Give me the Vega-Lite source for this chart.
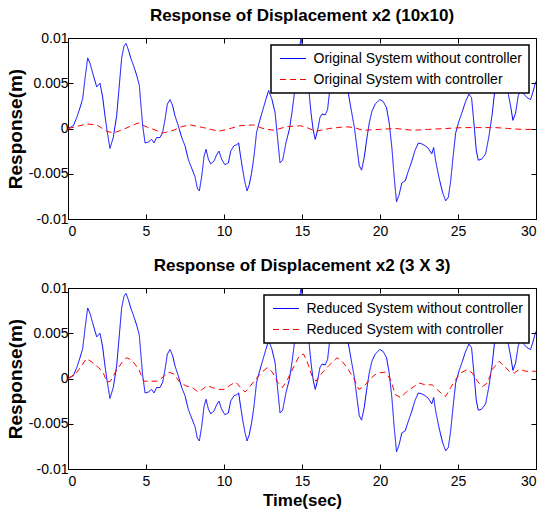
{
  "$schema": "https://vega.github.io/schema/vega-lite/v6.json",
  "background": "white",
  "padding": {"left": 5, "top": 6, "right": 5, "bottom": 5},
  "config": {
    "font": "Liberation Sans",
    "view": {"stroke": "black", "strokeWidth": 1},
    "axis": {
      "grid": false,
      "domainColor": "black",
      "tickColor": "black",
      "labelColor": "black",
      "labelFont": "Liberation Sans",
      "labelFontSize": 14,
      "tickSize": -5,
      "labelPadding": 5,
      "titleFont": "Liberation Sans",
      "titleFontSize": 19,
      "titleFontWeight": "bold",
      "titleColor": "black",
      "titlePadding": 3
    },
    "axisX": {"labelPadding": 10},
    "title": {"font": "Liberation Sans", "fontSize": 17, "fontWeight": "bold", "color": "black", "offset": 6},
    "legend": {
      "orient": "top-right",
      "offset": 7,
      "strokeColor": "black",
      "strokeWidth": 1.5,
      "fillColor": "white",
      "padding": 6,
      "labelFont": "Liberation Sans",
      "labelFontSize": 14,
      "labelColor": "black",
      "labelLimit": 400,
      "symbolType": "M-2,0H2",
      "symbolSize": 169,
      "symbolOffset": 8.5,
      "symbolStrokeWidth": 1.2,
      "symbolFillColor": "transparent",
      "rowPadding": 6,
      "labelOffset": 13
    },
    "concat": {"spacing": 17}
  },
  "datasets": {
    "top": [
      {"s": "a", "t": 0, "v": 0}, {"s": "a", "t": 0.34, "v": 0.0003}, {"s": "a", "t": 0.56, "v": 0.0012}, {"s": "a", "t": 0.77, "v": 0.0023}, {"s": "a", "t": 0.94, "v": 0.0033},
      {"s": "a", "t": 1.09, "v": 0.0055}, {"s": "a", "t": 1.26, "v": 0.0078}, {"s": "a", "t": 1.41, "v": 0.0072}, {"s": "a", "t": 1.62, "v": 0.0059}, {"s": "a", "t": 1.84, "v": 0.0046},
      {"s": "a", "t": 2.05, "v": 0.005}, {"s": "a", "t": 2.22, "v": 0.0035}, {"s": "a", "t": 2.37, "v": 0.0014}, {"s": "a", "t": 2.52, "v": -0.0004}, {"s": "a", "t": 2.69, "v": -0.0022},
      {"s": "a", "t": 2.9, "v": -0.001}, {"s": "a", "t": 3.12, "v": 0.0014}, {"s": "a", "t": 3.29, "v": 0.0048}, {"s": "a", "t": 3.44, "v": 0.0078}, {"s": "a", "t": 3.59, "v": 0.0091},
      {"s": "a", "t": 3.72, "v": 0.0094}, {"s": "a", "t": 3.87, "v": 0.0087}, {"s": "a", "t": 4.02, "v": 0.0078}, {"s": "a", "t": 4.19, "v": 0.007}, {"s": "a", "t": 4.4, "v": 0.0059},
      {"s": "a", "t": 4.57, "v": 0.0048}, {"s": "a", "t": 4.66, "v": 0.0029}, {"s": "a", "t": 4.79, "v": 0.0003}, {"s": "a", "t": 4.94, "v": -0.0016}, {"s": "a", "t": 5.15, "v": -0.0015},
      {"s": "a", "t": 5.36, "v": -0.0012}, {"s": "a", "t": 5.51, "v": -0.0016}, {"s": "a", "t": 5.68, "v": -0.001}, {"s": "a", "t": 5.9, "v": -0.001}, {"s": "a", "t": 6.07, "v": -0.0004},
      {"s": "a", "t": 6.22, "v": 0.001}, {"s": "a", "t": 6.37, "v": 0.0027}, {"s": "a", "t": 6.54, "v": 0.0032}, {"s": "a", "t": 6.71, "v": 0.0025}, {"s": "a", "t": 6.86, "v": 0.0014},
      {"s": "a", "t": 7.07, "v": 0.0003}, {"s": "a", "t": 7.29, "v": -0.001}, {"s": "a", "t": 7.5, "v": -0.0019}, {"s": "a", "t": 7.71, "v": -0.0034}, {"s": "a", "t": 7.93, "v": -0.0044},
      {"s": "a", "t": 8.14, "v": -0.0053}, {"s": "a", "t": 8.29, "v": -0.0066}, {"s": "a", "t": 8.42, "v": -0.0069}, {"s": "a", "t": 8.57, "v": -0.0053}, {"s": "a", "t": 8.72, "v": -0.0031},
      {"s": "a", "t": 8.85, "v": -0.0023}, {"s": "a", "t": 9.0, "v": -0.0034}, {"s": "a", "t": 9.15, "v": -0.0039}, {"s": "a", "t": 9.36, "v": -0.0036}, {"s": "a", "t": 9.53, "v": -0.0029},
      {"s": "a", "t": 9.68, "v": -0.0025}, {"s": "a", "t": 9.85, "v": -0.0034}, {"s": "a", "t": 10.06, "v": -0.004}, {"s": "a", "t": 10.28, "v": -0.0038}, {"s": "a", "t": 10.43, "v": -0.0025},
      {"s": "a", "t": 10.64, "v": -0.0019}, {"s": "a", "t": 10.81, "v": -0.0018}, {"s": "a", "t": 10.94, "v": -0.0016}, {"s": "a", "t": 11.03, "v": -0.0027}, {"s": "a", "t": 11.2, "v": -0.0046},
      {"s": "a", "t": 11.35, "v": -0.006}, {"s": "a", "t": 11.48, "v": -0.0069}, {"s": "a", "t": 11.62, "v": -0.0062}, {"s": "a", "t": 11.77, "v": -0.0049}, {"s": "a", "t": 11.92, "v": -0.0031},
      {"s": "a", "t": 12.09, "v": -0.0004}, {"s": "a", "t": 12.26, "v": 0.0007}, {"s": "a", "t": 12.48, "v": 0.002}, {"s": "a", "t": 12.7, "v": 0.0033}, {"s": "a", "t": 12.86, "v": 0.0042},
      {"s": "a", "t": 13.06, "v": 0.0033}, {"s": "a", "t": 13.27, "v": 0.0018}, {"s": "a", "t": 13.42, "v": -0.0008}, {"s": "a", "t": 13.59, "v": -0.0038}, {"s": "a", "t": 13.76, "v": -0.0035},
      {"s": "a", "t": 13.97, "v": -0.0016}, {"s": "a", "t": 14.19, "v": -0.0001}, {"s": "a", "t": 14.36, "v": 0.0018}, {"s": "a", "t": 14.55, "v": 0.0044}, {"s": "a", "t": 14.75, "v": 0.0082},
      {"s": "a", "t": 14.94, "v": 0.0099}, {"s": "a", "t": 15.1, "v": 0.0085}, {"s": "a", "t": 15.25, "v": 0.0065}, {"s": "a", "t": 15.43, "v": 0.0044}, {"s": "a", "t": 15.58, "v": 0.0017},
      {"s": "a", "t": 15.72, "v": -0.0002}, {"s": "a", "t": 15.85, "v": -0.0012}, {"s": "a", "t": 16.0, "v": -0.0002}, {"s": "a", "t": 16.15, "v": 0.0012}, {"s": "a", "t": 16.28, "v": 0.0016},
      {"s": "a", "t": 16.49, "v": 0.0015}, {"s": "a", "t": 16.64, "v": 0.0021}, {"s": "a", "t": 16.79, "v": 0.0044}, {"s": "a", "t": 17.0, "v": 0.0058}, {"s": "a", "t": 17.3, "v": 0.0065},
      {"s": "a", "t": 17.6, "v": 0.0058}, {"s": "a", "t": 17.92, "v": 0.0044}, {"s": "a", "t": 18.13, "v": 0.0023}, {"s": "a", "t": 18.35, "v": 0.0002}, {"s": "a", "t": 18.52, "v": -0.0021},
      {"s": "a", "t": 18.67, "v": -0.0041}, {"s": "a", "t": 18.82, "v": -0.0046}, {"s": "a", "t": 18.99, "v": -0.0032}, {"s": "a", "t": 19.14, "v": -0.0013}, {"s": "a", "t": 19.31, "v": 0.0006},
      {"s": "a", "t": 19.48, "v": 0.0019}, {"s": "a", "t": 19.69, "v": 0.0027}, {"s": "a", "t": 19.99, "v": 0.0032}, {"s": "a", "t": 20.2, "v": 0.003}, {"s": "a", "t": 20.42, "v": 0.0023},
      {"s": "a", "t": 20.59, "v": 0.0006}, {"s": "a", "t": 20.76, "v": -0.0021}, {"s": "a", "t": 20.91, "v": -0.0054}, {"s": "a", "t": 21.06, "v": -0.0081}, {"s": "a", "t": 21.23, "v": -0.0073},
      {"s": "a", "t": 21.4, "v": -0.006}, {"s": "a", "t": 21.61, "v": -0.0058}, {"s": "a", "t": 21.82, "v": -0.0047}, {"s": "a", "t": 22.04, "v": -0.0036}, {"s": "a", "t": 22.25, "v": -0.0024},
      {"s": "a", "t": 22.46, "v": -0.0016}, {"s": "a", "t": 22.68, "v": -0.0017}, {"s": "a", "t": 22.89, "v": -0.0019}, {"s": "a", "t": 23.1, "v": -0.0022}, {"s": "a", "t": 23.32, "v": -0.0028},
      {"s": "a", "t": 23.44, "v": -0.0021}, {"s": "a", "t": 23.57, "v": -0.0036}, {"s": "a", "t": 23.78, "v": -0.0054}, {"s": "a", "t": 24.0, "v": -0.007}, {"s": "a", "t": 24.21, "v": -0.008},
      {"s": "a", "t": 24.38, "v": -0.0076}, {"s": "a", "t": 24.53, "v": -0.0058}, {"s": "a", "t": 24.68, "v": -0.0032}, {"s": "a", "t": 24.85, "v": -0.0005}, {"s": "a", "t": 25.06, "v": 0.0008},
      {"s": "a", "t": 25.28, "v": 0.0019}, {"s": "a", "t": 25.49, "v": 0.003}, {"s": "a", "t": 25.7, "v": 0.0038}, {"s": "a", "t": 25.87, "v": 0.0034}, {"s": "a", "t": 26.02, "v": 0.0006},
      {"s": "a", "t": 26.17, "v": -0.0024}, {"s": "a", "t": 26.3, "v": -0.0035}, {"s": "a", "t": 26.51, "v": -0.0034}, {"s": "a", "t": 26.77, "v": -0.0028}, {"s": "a", "t": 26.98, "v": -0.0009},
      {"s": "a", "t": 27.2, "v": 0.0017}, {"s": "a", "t": 27.37, "v": 0.0044}, {"s": "a", "t": 27.55, "v": 0.006}, {"s": "a", "t": 27.75, "v": 0.0064}, {"s": "a", "t": 27.95, "v": 0.0058},
      {"s": "a", "t": 28.16, "v": 0.0044}, {"s": "a", "t": 28.37, "v": 0.0025}, {"s": "a", "t": 28.52, "v": 0.0009}, {"s": "a", "t": 28.69, "v": 0.0017}, {"s": "a", "t": 28.86, "v": 0.0036},
      {"s": "a", "t": 29.0, "v": 0.0042}, {"s": "a", "t": 29.22, "v": 0.0038}, {"s": "a", "t": 29.43, "v": 0.0034}, {"s": "a", "t": 29.65, "v": 0.0032}, {"s": "a", "t": 29.8, "v": 0.004},
      {"s": "a", "t": 29.97, "v": 0.0051}, {"s": "a", "t": 30, "v": 0.0052},
      {"s": "b", "t": 0, "v": 0}, {"s": "b", "t": 0.5, "v": 0.0002}, {"s": "b", "t": 1.2, "v": 0.0005}, {"s": "b", "t": 1.84, "v": 0.0004}, {"s": "b", "t": 2.48, "v": -0.0003},
      {"s": "b", "t": 2.9, "v": -0.0005}, {"s": "b", "t": 3.55, "v": -0.0001}, {"s": "b", "t": 4.19, "v": 0.0004}, {"s": "b", "t": 4.5, "v": 0.0006}, {"s": "b", "t": 5.15, "v": 0.0001},
      {"s": "b", "t": 5.8, "v": -0.0003}, {"s": "b", "t": 6.1, "v": -0.0005}, {"s": "b", "t": 6.75, "v": -0.0002}, {"s": "b", "t": 7.29, "v": 0.0002}, {"s": "b", "t": 7.82, "v": 0.0004},
      {"s": "b", "t": 8.68, "v": 0.0001}, {"s": "b", "t": 9.64, "v": -0.0003}, {"s": "b", "t": 10.2, "v": -0.0001}, {"s": "b", "t": 11.0, "v": 0.0003}, {"s": "b", "t": 11.9, "v": 0.0004},
      {"s": "b", "t": 12.5, "v": 0}, {"s": "b", "t": 13.2, "v": -0.0002}, {"s": "b", "t": 14.0, "v": 0.0002}, {"s": "b", "t": 14.9, "v": 0.0003}, {"s": "b", "t": 15.3, "v": 0.0001},
      {"s": "b", "t": 15.9, "v": -0.0003}, {"s": "b", "t": 16.75, "v": 0}, {"s": "b", "t": 17.8, "v": 0.0002}, {"s": "b", "t": 18.35, "v": 0.0001}, {"s": "b", "t": 18.9, "v": -0.0002},
      {"s": "b", "t": 19.95, "v": -0.0001}, {"s": "b", "t": 21.0, "v": 0}, {"s": "b", "t": 22.1, "v": -0.0002}, {"s": "b", "t": 23.1, "v": -0.0001}, {"s": "b", "t": 24.2, "v": 0},
      {"s": "b", "t": 25.3, "v": 0.0001}, {"s": "b", "t": 26.3, "v": 0.0001}, {"s": "b", "t": 27.4, "v": 0.0001}, {"s": "b", "t": 28.25, "v": 0}, {"s": "b", "t": 29.1, "v": -0.0001},
      {"s": "b", "t": 30, "v": -0.0001}
    ],
    "bot": [
      {"s": "a", "t": 0, "v": 0}, {"s": "a", "t": 0.34, "v": 0.0003}, {"s": "a", "t": 0.56, "v": 0.0012}, {"s": "a", "t": 0.77, "v": 0.0023}, {"s": "a", "t": 0.94, "v": 0.0033},
      {"s": "a", "t": 1.09, "v": 0.0055}, {"s": "a", "t": 1.26, "v": 0.0078}, {"s": "a", "t": 1.41, "v": 0.0072}, {"s": "a", "t": 1.62, "v": 0.0059}, {"s": "a", "t": 1.84, "v": 0.0046},
      {"s": "a", "t": 2.05, "v": 0.005}, {"s": "a", "t": 2.22, "v": 0.0035}, {"s": "a", "t": 2.37, "v": 0.0014}, {"s": "a", "t": 2.52, "v": -0.0004}, {"s": "a", "t": 2.69, "v": -0.0022},
      {"s": "a", "t": 2.9, "v": -0.001}, {"s": "a", "t": 3.12, "v": 0.0014}, {"s": "a", "t": 3.29, "v": 0.0048}, {"s": "a", "t": 3.44, "v": 0.0078}, {"s": "a", "t": 3.59, "v": 0.0091},
      {"s": "a", "t": 3.72, "v": 0.0094}, {"s": "a", "t": 3.87, "v": 0.0087}, {"s": "a", "t": 4.02, "v": 0.0078}, {"s": "a", "t": 4.19, "v": 0.007}, {"s": "a", "t": 4.4, "v": 0.0059},
      {"s": "a", "t": 4.57, "v": 0.0048}, {"s": "a", "t": 4.66, "v": 0.0029}, {"s": "a", "t": 4.79, "v": 0.0003}, {"s": "a", "t": 4.94, "v": -0.0016}, {"s": "a", "t": 5.15, "v": -0.0015},
      {"s": "a", "t": 5.36, "v": -0.0012}, {"s": "a", "t": 5.51, "v": -0.0016}, {"s": "a", "t": 5.68, "v": -0.001}, {"s": "a", "t": 5.9, "v": -0.001}, {"s": "a", "t": 6.07, "v": -0.0004},
      {"s": "a", "t": 6.22, "v": 0.001}, {"s": "a", "t": 6.37, "v": 0.0027}, {"s": "a", "t": 6.54, "v": 0.0032}, {"s": "a", "t": 6.71, "v": 0.0025}, {"s": "a", "t": 6.86, "v": 0.0014},
      {"s": "a", "t": 7.07, "v": 0.0003}, {"s": "a", "t": 7.29, "v": -0.001}, {"s": "a", "t": 7.5, "v": -0.0019}, {"s": "a", "t": 7.71, "v": -0.0034}, {"s": "a", "t": 7.93, "v": -0.0044},
      {"s": "a", "t": 8.14, "v": -0.0053}, {"s": "a", "t": 8.29, "v": -0.0066}, {"s": "a", "t": 8.42, "v": -0.0069}, {"s": "a", "t": 8.57, "v": -0.0053}, {"s": "a", "t": 8.72, "v": -0.0031},
      {"s": "a", "t": 8.85, "v": -0.0023}, {"s": "a", "t": 9.0, "v": -0.0034}, {"s": "a", "t": 9.15, "v": -0.0039}, {"s": "a", "t": 9.36, "v": -0.0036}, {"s": "a", "t": 9.53, "v": -0.0029},
      {"s": "a", "t": 9.68, "v": -0.0025}, {"s": "a", "t": 9.85, "v": -0.0034}, {"s": "a", "t": 10.06, "v": -0.004}, {"s": "a", "t": 10.28, "v": -0.0038}, {"s": "a", "t": 10.43, "v": -0.0025},
      {"s": "a", "t": 10.64, "v": -0.0019}, {"s": "a", "t": 10.81, "v": -0.0018}, {"s": "a", "t": 10.94, "v": -0.0016}, {"s": "a", "t": 11.03, "v": -0.0027}, {"s": "a", "t": 11.2, "v": -0.0046},
      {"s": "a", "t": 11.35, "v": -0.006}, {"s": "a", "t": 11.48, "v": -0.0069}, {"s": "a", "t": 11.62, "v": -0.0062}, {"s": "a", "t": 11.77, "v": -0.0049}, {"s": "a", "t": 11.92, "v": -0.0031},
      {"s": "a", "t": 12.09, "v": -0.0004}, {"s": "a", "t": 12.26, "v": 0.0007}, {"s": "a", "t": 12.48, "v": 0.002}, {"s": "a", "t": 12.7, "v": 0.0033}, {"s": "a", "t": 12.86, "v": 0.0042},
      {"s": "a", "t": 13.06, "v": 0.0033}, {"s": "a", "t": 13.27, "v": 0.0018}, {"s": "a", "t": 13.42, "v": -0.0008}, {"s": "a", "t": 13.59, "v": -0.0038}, {"s": "a", "t": 13.76, "v": -0.0035},
      {"s": "a", "t": 13.97, "v": -0.0016}, {"s": "a", "t": 14.19, "v": -0.0001}, {"s": "a", "t": 14.36, "v": 0.0018}, {"s": "a", "t": 14.55, "v": 0.0044}, {"s": "a", "t": 14.75, "v": 0.0082},
      {"s": "a", "t": 14.94, "v": 0.0099}, {"s": "a", "t": 15.1, "v": 0.0085}, {"s": "a", "t": 15.25, "v": 0.0065}, {"s": "a", "t": 15.43, "v": 0.0044}, {"s": "a", "t": 15.58, "v": 0.0017},
      {"s": "a", "t": 15.72, "v": -0.0002}, {"s": "a", "t": 15.85, "v": -0.0012}, {"s": "a", "t": 16.0, "v": -0.0002}, {"s": "a", "t": 16.15, "v": 0.0012}, {"s": "a", "t": 16.28, "v": 0.0016},
      {"s": "a", "t": 16.49, "v": 0.0015}, {"s": "a", "t": 16.64, "v": 0.0021}, {"s": "a", "t": 16.79, "v": 0.0044}, {"s": "a", "t": 17.0, "v": 0.0058}, {"s": "a", "t": 17.3, "v": 0.0065},
      {"s": "a", "t": 17.6, "v": 0.0058}, {"s": "a", "t": 17.92, "v": 0.0044}, {"s": "a", "t": 18.13, "v": 0.0023}, {"s": "a", "t": 18.35, "v": 0.0002}, {"s": "a", "t": 18.52, "v": -0.0021},
      {"s": "a", "t": 18.67, "v": -0.0041}, {"s": "a", "t": 18.82, "v": -0.0046}, {"s": "a", "t": 18.99, "v": -0.0032}, {"s": "a", "t": 19.14, "v": -0.0013}, {"s": "a", "t": 19.31, "v": 0.0006},
      {"s": "a", "t": 19.48, "v": 0.0019}, {"s": "a", "t": 19.69, "v": 0.0027}, {"s": "a", "t": 19.99, "v": 0.0032}, {"s": "a", "t": 20.2, "v": 0.003}, {"s": "a", "t": 20.42, "v": 0.0023},
      {"s": "a", "t": 20.59, "v": 0.0006}, {"s": "a", "t": 20.76, "v": -0.0021}, {"s": "a", "t": 20.91, "v": -0.0054}, {"s": "a", "t": 21.06, "v": -0.0081}, {"s": "a", "t": 21.23, "v": -0.0073},
      {"s": "a", "t": 21.4, "v": -0.006}, {"s": "a", "t": 21.61, "v": -0.0058}, {"s": "a", "t": 21.82, "v": -0.0047}, {"s": "a", "t": 22.04, "v": -0.0036}, {"s": "a", "t": 22.25, "v": -0.0024},
      {"s": "a", "t": 22.46, "v": -0.0016}, {"s": "a", "t": 22.68, "v": -0.0017}, {"s": "a", "t": 22.89, "v": -0.0019}, {"s": "a", "t": 23.1, "v": -0.0022}, {"s": "a", "t": 23.32, "v": -0.0028},
      {"s": "a", "t": 23.44, "v": -0.0021}, {"s": "a", "t": 23.57, "v": -0.0036}, {"s": "a", "t": 23.78, "v": -0.0054}, {"s": "a", "t": 24.0, "v": -0.007}, {"s": "a", "t": 24.21, "v": -0.008},
      {"s": "a", "t": 24.38, "v": -0.0076}, {"s": "a", "t": 24.53, "v": -0.0058}, {"s": "a", "t": 24.68, "v": -0.0032}, {"s": "a", "t": 24.85, "v": -0.0005}, {"s": "a", "t": 25.06, "v": 0.0008},
      {"s": "a", "t": 25.28, "v": 0.0019}, {"s": "a", "t": 25.49, "v": 0.003}, {"s": "a", "t": 25.7, "v": 0.0038}, {"s": "a", "t": 25.87, "v": 0.0034}, {"s": "a", "t": 26.02, "v": 0.0006},
      {"s": "a", "t": 26.17, "v": -0.0024}, {"s": "a", "t": 26.3, "v": -0.0035}, {"s": "a", "t": 26.51, "v": -0.0034}, {"s": "a", "t": 26.77, "v": -0.0028}, {"s": "a", "t": 26.98, "v": -0.0009},
      {"s": "a", "t": 27.2, "v": 0.0017}, {"s": "a", "t": 27.37, "v": 0.0044}, {"s": "a", "t": 27.55, "v": 0.006}, {"s": "a", "t": 27.75, "v": 0.0064}, {"s": "a", "t": 27.95, "v": 0.0058},
      {"s": "a", "t": 28.16, "v": 0.0044}, {"s": "a", "t": 28.37, "v": 0.0025}, {"s": "a", "t": 28.52, "v": 0.0009}, {"s": "a", "t": 28.69, "v": 0.0017}, {"s": "a", "t": 28.86, "v": 0.0036},
      {"s": "a", "t": 29.0, "v": 0.0042}, {"s": "a", "t": 29.22, "v": 0.0038}, {"s": "a", "t": 29.43, "v": 0.0034}, {"s": "a", "t": 29.65, "v": 0.0032}, {"s": "a", "t": 29.8, "v": 0.004},
      {"s": "a", "t": 29.97, "v": 0.0051}, {"s": "a", "t": 30, "v": 0.0052},
      {"s": "b", "t": 0, "v": 0}, {"s": "b", "t": 0.47, "v": 0.0005}, {"s": "b", "t": 0.79, "v": 0.0012}, {"s": "b", "t": 1.18, "v": 0.0022}, {"s": "b", "t": 1.54, "v": 0.0018},
      {"s": "b", "t": 1.97, "v": 0.0012}, {"s": "b", "t": 2.29, "v": 0.0005}, {"s": "b", "t": 2.5, "v": -0.0004}, {"s": "b", "t": 2.72, "v": -0.0003}, {"s": "b", "t": 3.04, "v": 0.0007},
      {"s": "b", "t": 3.47, "v": 0.0018}, {"s": "b", "t": 3.75, "v": 0.0023}, {"s": "b", "t": 4.11, "v": 0.002}, {"s": "b", "t": 4.54, "v": 0.001}, {"s": "b", "t": 4.86, "v": -0.0003},
      {"s": "b", "t": 5.18, "v": -0.0003}, {"s": "b", "t": 5.72, "v": -0.0003}, {"s": "b", "t": 6.04, "v": 0.0001}, {"s": "b", "t": 6.47, "v": 0.0007}, {"s": "b", "t": 6.79, "v": 0.0005},
      {"s": "b", "t": 7.11, "v": -0.0003}, {"s": "b", "t": 7.54, "v": -0.0008}, {"s": "b", "t": 7.97, "v": -0.001}, {"s": "b", "t": 8.35, "v": -0.0015}, {"s": "b", "t": 8.61, "v": -0.0012},
      {"s": "b", "t": 8.93, "v": -0.0008}, {"s": "b", "t": 9.25, "v": -0.001}, {"s": "b", "t": 9.68, "v": -0.0012}, {"s": "b", "t": 10.0, "v": -0.0012}, {"s": "b", "t": 10.43, "v": -0.0007},
      {"s": "b", "t": 10.75, "v": -0.0004}, {"s": "b", "t": 11.07, "v": -0.001}, {"s": "b", "t": 11.35, "v": -0.0015}, {"s": "b", "t": 11.6, "v": -0.001}, {"s": "b", "t": 12.03, "v": -0.0001},
      {"s": "b", "t": 12.42, "v": 0.0007}, {"s": "b", "t": 12.78, "v": 0.0012}, {"s": "b", "t": 13.1, "v": 0.0007}, {"s": "b", "t": 13.43, "v": -0.0004}, {"s": "b", "t": 13.75, "v": -0.001},
      {"s": "b", "t": 14.07, "v": -0.0001}, {"s": "b", "t": 14.5, "v": 0.0014}, {"s": "b", "t": 14.82, "v": 0.0025}, {"s": "b", "t": 15.1, "v": 0.0027}, {"s": "b", "t": 15.32, "v": 0.0019},
      {"s": "b", "t": 15.64, "v": 0.0003}, {"s": "b", "t": 15.9, "v": -0.0003}, {"s": "b", "t": 16.28, "v": 0.0006}, {"s": "b", "t": 16.71, "v": 0.0014}, {"s": "b", "t": 17.25, "v": 0.0023},
      {"s": "b", "t": 17.57, "v": 0.0019}, {"s": "b", "t": 17.89, "v": 0.0012}, {"s": "b", "t": 18.32, "v": 0}, {"s": "b", "t": 18.64, "v": -0.0012}, {"s": "b", "t": 18.96, "v": -0.0009},
      {"s": "b", "t": 19.39, "v": 0}, {"s": "b", "t": 19.82, "v": 0.0006}, {"s": "b", "t": 20.35, "v": 0.0007}, {"s": "b", "t": 20.67, "v": -0.0001}, {"s": "b", "t": 20.99, "v": -0.0018},
      {"s": "b", "t": 21.32, "v": -0.0021}, {"s": "b", "t": 21.75, "v": -0.0014}, {"s": "b", "t": 22.17, "v": -0.0009}, {"s": "b", "t": 22.49, "v": -0.0005}, {"s": "b", "t": 22.92, "v": -0.0007},
      {"s": "b", "t": 23.35, "v": -0.0007}, {"s": "b", "t": 23.78, "v": -0.0014}, {"s": "b", "t": 24.2, "v": -0.002}, {"s": "b", "t": 24.53, "v": -0.001}, {"s": "b", "t": 24.85, "v": -0.0001},
      {"s": "b", "t": 25.17, "v": 0.0006}, {"s": "b", "t": 25.6, "v": 0.001}, {"s": "b", "t": 25.92, "v": 0.0006}, {"s": "b", "t": 26.24, "v": -0.0003}, {"s": "b", "t": 26.56, "v": -0.0009},
      {"s": "b", "t": 26.88, "v": -0.0005}, {"s": "b", "t": 27.2, "v": 0.001}, {"s": "b", "t": 27.63, "v": 0.0019}, {"s": "b", "t": 27.96, "v": 0.0014}, {"s": "b", "t": 28.28, "v": 0.0008},
      {"s": "b", "t": 28.6, "v": 0.0006}, {"s": "b", "t": 28.92, "v": 0.001}, {"s": "b", "t": 29.35, "v": 0.0008}, {"s": "b", "t": 29.78, "v": 0.0008}, {"s": "b", "t": 30, "v": 0.0008}
    ]
  },
  "vconcat": [
    {
      "title": {"text": "Response of Displacement x2 (10x10)"},
      "width": 468,
      "height": 181,
      "data": {"name": "top"},
      "layer": [
        {
          "mark": {"type": "line", "strokeWidth": 1, "clip": true},
          "encoding": {
            "x": {"field": "t", "type": "quantitative", "scale": {"domain": [0, 30], "nice": false}, "axis": {"values": [0, 5, 10, 15, 20, 25, 30], "title": null}},
            "y": {"field": "v", "type": "quantitative", "scale": {"domain": [-0.01, 0.01], "nice": false}, "axis": {"values": [-0.01, -0.005, 0, 0.005, 0.01], "labelExpr": "toString(datum.value)", "title": "Response(m)"}},
            "color": {"field": "s", "type": "nominal", "scale": {"domain": ["a", "b"], "range": ["#0000ff", "#ff0000"]}, "legend": {"title": null, "labelExpr": "datum.value == 'a' ? 'Original System without controller' : 'Original System with controller'"}},
            "strokeDash": {"field": "s", "type": "nominal", "scale": {"domain": ["a", "b"], "range": [[1, 0], [6, 4]]}, "legend": {"title": null, "labelExpr": "datum.value == 'a' ? 'Original System without controller' : 'Original System with controller'"}}
          }
        },
        {
          "mark": {"type": "line", "opacity": 0},
          "encoding": {
            "x": {"field": "t", "type": "quantitative", "axis": {"orient": "top", "values": [0, 5, 10, 15, 20, 25, 30], "labels": false, "title": null, "domain": false}},
            "y": {"field": "v", "type": "quantitative", "axis": {"orient": "right", "values": [-0.01, -0.005, 0, 0.005, 0.01], "labels": false, "title": null, "domain": false}}
          }
        }
      ],
      "resolve": {"axis": {"x": "independent", "y": "independent"}}
    },
    {
      "title": {"text": "Response of Displacement x2 (3 X 3)"},
      "width": 468,
      "height": 181,
      "data": {"name": "bot"},
      "layer": [
        {
          "mark": {"type": "line", "strokeWidth": 1, "clip": true},
          "encoding": {
            "x": {"field": "t", "type": "quantitative", "scale": {"domain": [0, 30], "nice": false}, "axis": {"values": [0, 5, 10, 15, 20, 25, 30], "title": "Time(sec)", "titleFontSize": 17, "titlePadding": 4}},
            "y": {"field": "v", "type": "quantitative", "scale": {"domain": [-0.01, 0.01], "nice": false}, "axis": {"values": [-0.01, -0.005, 0, 0.005, 0.01], "labelExpr": "toString(datum.value)", "title": "Response(m)"}},
            "color": {"field": "s", "type": "nominal", "scale": {"domain": ["a", "b"], "range": ["#0000ff", "#ff0000"]}, "legend": {"title": null, "labelExpr": "datum.value == 'a' ? 'Reduced System without controller' : 'Reduced System with controller'"}},
            "strokeDash": {"field": "s", "type": "nominal", "scale": {"domain": ["a", "b"], "range": [[1, 0], [6, 4]]}, "legend": {"title": null, "labelExpr": "datum.value == 'a' ? 'Reduced System without controller' : 'Reduced System with controller'"}}
          }
        },
        {
          "mark": {"type": "line", "opacity": 0},
          "encoding": {
            "x": {"field": "t", "type": "quantitative", "axis": {"orient": "top", "values": [0, 5, 10, 15, 20, 25, 30], "labels": false, "title": null, "domain": false}},
            "y": {"field": "v", "type": "quantitative", "axis": {"orient": "right", "values": [-0.01, -0.005, 0, 0.005, 0.01], "labels": false, "title": null, "domain": false}}
          }
        }
      ],
      "resolve": {"axis": {"x": "independent", "y": "independent"}}
    }
  ],
  "resolve": {"scale": {"color": "independent", "strokeDash": "independent"}}
}
